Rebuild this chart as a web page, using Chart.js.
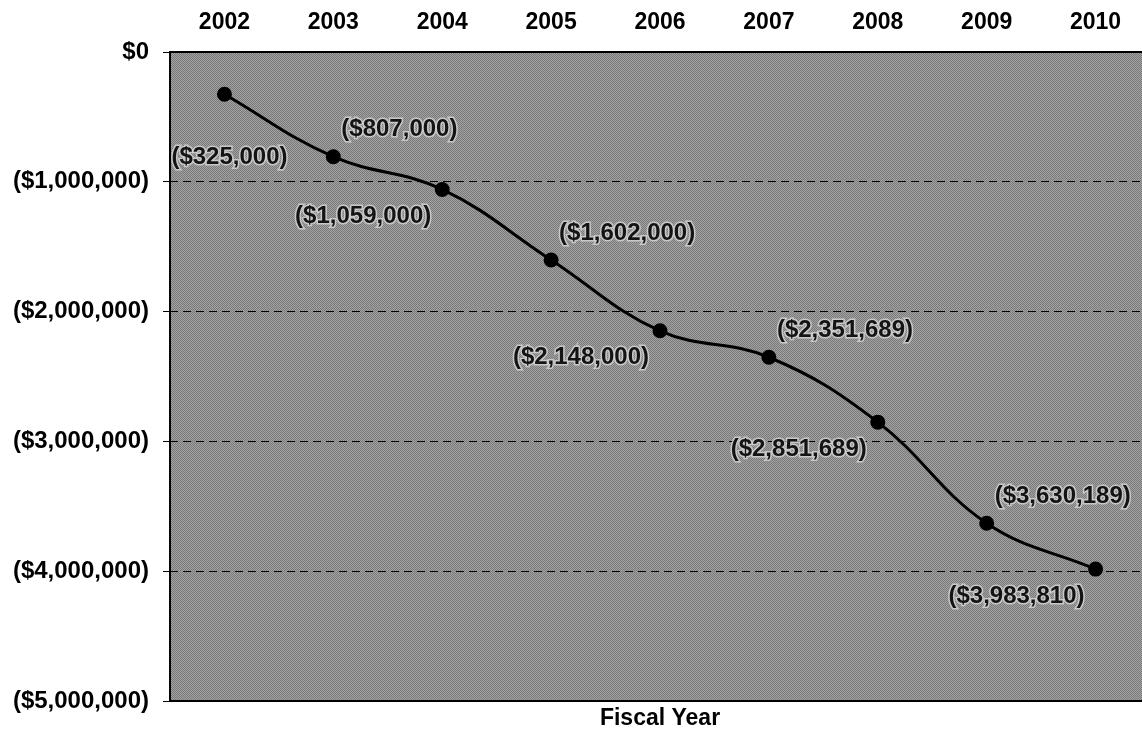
<!DOCTYPE html>
<html>
<head>
<meta charset="utf-8">
<script src="https://cdn.jsdelivr.net/npm/chart.js@4.4.1/dist/chart.umd.min.js"></script>
<style>
  html, body { margin: 0; padding: 0; background: #fff; overflow: hidden; }
  #wrap { width: 1142px; height: 735px; overflow: hidden; }
</style>
</head>
<body>
<div id="wrap"><canvas id="chart" width="1159" height="735"></canvas></div>
<script>
// datos
const years = ["2002", "2003", "2004", "2005", "2006", "2007", "2008", "2009", "2010"];
const balance = [-325000, -807000, -1059000, -1602000, -2148000, -2351689, -2851689, -3630189, -3983810];
const labelSide = ["under", "above", "below", "above", "below", "above", "below", "above", "below"];
const yTicks = [0, -1000000, -2000000, -3000000, -4000000, -5000000];

const fmt = v => {
  const s = "$" + Math.abs(v).toLocaleString("en-US");
  return v < 0 ? "(" + s + ")" : s;
};

const FONT = "Arial, 'Liberation Sans', sans-serif";
const FS = 24;

// fondo gris con textura
const bgPlugin = {
  id: "bg",
  beforeDraw(chart) {
    const { ctx, chartArea: a } = chart;
    const p = document.createElement("canvas");
    p.width = 2; p.height = 2;
    const pc = p.getContext("2d");
    pc.fillStyle = "#a2a2a2"; pc.fillRect(0, 0, 2, 2);
    pc.fillStyle = "#7a7a7a"; pc.fillRect(0, 0, 1, 1); pc.fillRect(1, 1, 1, 1);
    ctx.save();
    ctx.fillStyle = ctx.createPattern(p, "repeat");
    ctx.fillRect(a.left, a.top, a.right - a.left, a.bottom - a.top);
    ctx.restore();
  },
  afterDraw(chart) {
    const { ctx, chartArea: a } = chart;
    ctx.save();
    ctx.strokeStyle = "#000";
    ctx.lineWidth = 2;
    ctx.beginPath();
    ctx.moveTo(a.right, a.top); ctx.lineTo(a.left, a.top);
    ctx.lineTo(a.left, a.bottom); ctx.lineTo(a.right, a.bottom);
    ctx.stroke();
    // titulo eje
    ctx.fillStyle = "#000";
    ctx.font = "bold " + (FS - 1) + "px " + FONT;
    ctx.textAlign = "center";
    ctx.textBaseline = "middle";
    ctx.fillText("Fiscal Year", 660, a.bottom + 18);
    ctx.restore();
  }
};

// etiquetas de datos
const labelPlugin = {
  id: "labels",
  afterDatasetsDraw(chart) {
    const { ctx } = chart;
    const meta = chart.getDatasetMeta(0);
    ctx.save();
    ctx.font = "bold " + FS + "px " + FONT;
    ctx.textBaseline = "middle";
    meta.data.forEach((pt, i) => {
      const txt = fmt(balance[i]);
      let x, y;
      if (labelSide[i] === "above") {
        ctx.textAlign = "left";
        x = pt.x + 8; y = pt.y - 27;
      } else if (labelSide[i] === "below") {
        ctx.textAlign = "right";
        x = pt.x - 11; y = pt.y + 27;
      } else {
        ctx.textAlign = "center";
        x = pt.x + 5; y = pt.y + 63;
      }
      ctx.lineWidth = 3;
      ctx.strokeStyle = "rgba(215,215,215,0.8)";
      ctx.strokeText(txt, x, y);
      ctx.fillStyle = "#141414";
      ctx.fillText(txt, x, y);
    });
    ctx.restore();
  }
};

const data = {
  labels: years,
  datasets: [{
    data: balance,
    borderColor: "#000",
    backgroundColor: "#000",
    borderWidth: 3,
    pointRadius: 6,
    pointBackgroundColor: "#000",
    tension: 0.4,
    fill: false
  }]
};

const config = {
  type: "line",
  data: data,
  options: {
    responsive: false,
    animation: false,
    layout: { padding: { top: 0, right: 0, bottom: 34, left: 0 } },
    plugins: {
      legend: { display: false },
      tooltip: { enabled: false }
    },
    scales: {
      x: {
        position: "top",
        offset: true,
        grid: { display: false, drawTicks: false },
        border: { display: false },
        ticks: {
          color: "#000",
          padding: 16,
          maxRotation: 0,
          font: { family: FONT, size: FS - 1, weight: "bold" }
        },
        afterFit(scale) {
          scale.height = 52;
          scale.paddingLeft = 0;
          scale.paddingRight = 0;
        }
      },
      y: {
        min: -5000000,
        max: 0,
        afterBuildTicks(scale) { scale.ticks = yTicks.map(v => ({ value: v })); },
        grid: {
          color: "#000",
          lineWidth: 1,
          tickLength: 7,
          tickColor: "#000"
        },
        border: { display: false, dash: [8, 5] },
        ticks: {
          color: "#000",
          padding: 14,
          font: { family: FONT, size: FS, weight: "bold" },
          callback: v => fmt(v)
        },
        afterFit(scale) {
          scale.width = 170;
          scale.paddingTop = 0;
          scale.paddingBottom = 0;
        }
      }
    }
  },
  plugins: [bgPlugin, labelPlugin]
};

const chart = new Chart(document.getElementById("chart").getContext("2d"), config);
</script>
</body>
</html>
